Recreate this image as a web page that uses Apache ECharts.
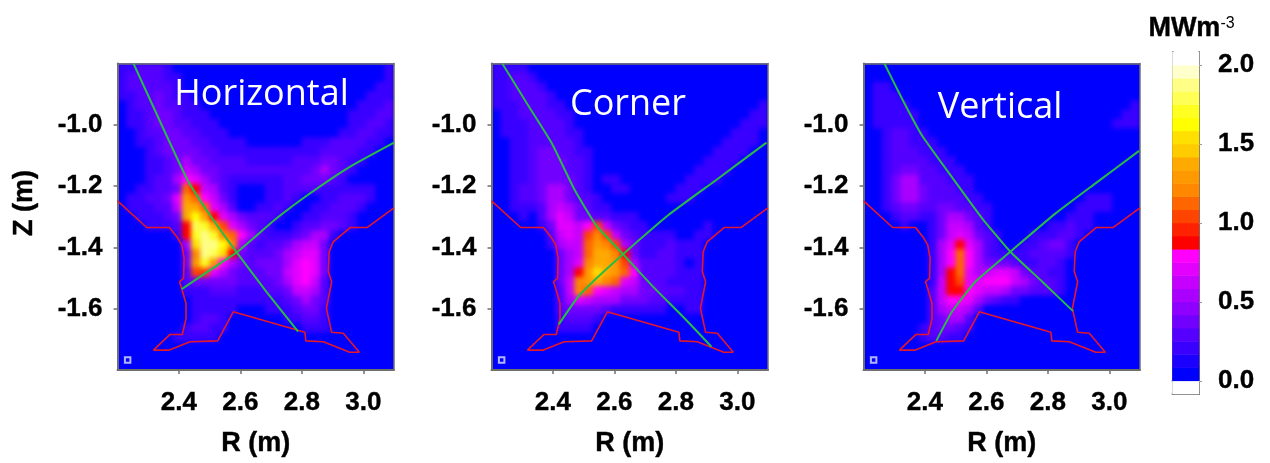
<!DOCTYPE html>
<html><head><meta charset="utf-8">
<script src="https://cdn.jsdelivr.net/npm/echarts@6/dist/echarts.min.js"></script>
<style>html,body{margin:0;padding:0;background:#fff}#c{width:1270px;height:463px}</style>
</head><body><div id="c"></div>
<script>
// Power density, units of 0.1 MW/m3. Rows top (Z=-0.8) to bottom (Z=-1.8), columns R=2.2 to 3.1; missing trailing cells are 0.
const horizontalTenths = [
[1,1,2,2,2,1,0,0,0,0,0,0,0,0,0,0,0,0,0,0,0,0,0,0,0,0,0,0,0,1],
[1,2,2,2,2,1,1,0,0,0,0,0,0,0,0,0,0,0,0,0,0,0,0,0,0,0,0,0,0,1],
[1,2,2,2,2,2,1,0,0,0,0,0,0,0,0,0,0,0,0,0,0,0,0,0,0,0,0,0,1,1],
[1,1,2,2,3,2,1,1,0,0,0,0,0,0,0,0,0,0,0,0,0,0,0,0,0,0,0,1,1,1],
[0,1,2,2,3,2,2,1,1,0,0,0,0,0,0,0,0,0,0,0,0,0,0,0,0,0,1,1,1,2],
[0,1,1,2,3,3,2,1,1,1,0,0,0,0,0,0,0,0,0,0,0,0,0,0,0,1,1,1,2,2],
[0,1,1,2,3,3,2,2,1,1,1,0,0,0,0,0,0,0,0,0,0,0,0,0,0,1,1,2,2,1],
[0,0,1,2,2,3,3,2,2,1,1,1,0,0,0,0,0,0,0,0,0,0,0,0,1,1,2,2,1,1],
[0,0,1,1,2,3,3,3,2,2,1,1,1,1,0,0,0,0,0,0,1,1,1,2,2,2,2,1,1,0],
[0,0,0,1,2,3,3,3,3,2,2,1,1,1,1,1,1,1,1,1,1,1,2,2,2,2,1,1,0,0],
[0,0,0,1,1,2,3,4,3,3,2,2,2,2,1,1,1,1,1,2,2,2,3,3,2,1,1],
[0,0,0,1,1,2,3,5,4,3,3,2,2,2,2,2,2,2,2,2,2,3,4,3,2,1],
[0,0,0,1,2,2,4,8,6,4,3,2,1,1,1,1,1,1,2,2,3,3,3,2,1],
[0,0,1,1,2,2,3,11,9,5,4,2,1,0,0,0,1,1,2,2,2,2,1,1,1,1,1,1],
[0,1,1,2,2,3,6,13,11,8,5,3,1,0,0,0,1,1,2,1,0,0,1,1,2,2,2,1],
[0,1,1,1,2,2,5,14,14,11,6,4,2,0,0,1,1,2,1,0,0,1,1,2,2,2,1],
[0,0,1,1,1,2,3,14,16,14,9,6,4,3,2,2,2,1,0,0,1,1,2,2,2,1],
[0,0,0,1,1,1,2,9,18,17,14,10,6,4,3,2,1,0,0,1,2,2,3,3,2,1],
[0,0,0,0,0,0,1,9,17,19,17,12,11,8,4,2,1,1,1,2,3,4,4,1],
[0,0,0,0,0,0,0,4,15,19,19,16,12,4,2,1,2,2,3,4,5,5,3],
[0,0,0,0,0,0,0,3,12,19,18,15,9,3,2,2,2,3,4,5,6,6,3],
[0,0,0,0,0,0,0,3,13,17,13,8,4,3,2,3,3,3,4,6,7,6,3],
[0,0,0,0,0,0,0,2,10,10,6,4,3,2,2,2,3,3,5,6,8,6,3],
[0,0,0,0,0,0,0,2,3,3,3,3,3,2,2,2,2,3,4,6,7,5,2],
[0,0,0,0,0,0,0,1,1,1,2,2,2,1,1,1,2,2,3,5,5,4,2],
[0,0,0,0,0,0,0,0,1,1,1,1,1,1,1,1,1,1,2,3,4,3,2],
[0,0,0,0,0,0,0,0,1,1,1,1,1,0,0,0,1,1,1,2,3,3,1],
[0,0,0,0,0,0,0,0,1,2,2,1,0,0,0,0,0,0,1,1,2,2,1],
[0,0,0,0,0,0,0,1,2,2,1,1,0,0,0,0,0,0,0,0,1,1,1],
[0,0,0,0,0,0,1,1,1,1,1],
[],[],[]
];
const cornerTenths = [
[1,1,1,1],
[1,1,2,2,1],
[1,1,2,2,2,1],
[1,1,2,2,2,2,1],
[1,1,1,2,2,2,1,1,0,0,0,0,0,0,0,0,0,0,0,0,0,0,0,0,0,0,0,0,0,1],
[0,1,1,2,2,2,2,1,1,0,0,0,0,0,0,0,0,0,0,0,0,0,0,0,0,0,0,0,1,1],
[0,1,1,1,2,2,2,2,1,0,0,0,0,0,0,0,0,0,0,0,0,0,0,0,0,0,0,1,1,1],
[0,1,1,1,2,2,2,2,1,1,0,0,0,0,0,0,0,0,0,0,0,0,0,0,0,0,1,1,1,0],
[0,0,1,1,2,2,2,2,2,1,0,0,0,0,0,0,0,0,0,0,0,0,0,0,0,1,1,1,1],
[0,0,1,1,2,3,3,2,2,1,1,0,0,0,0,0,0,0,0,0,0,0,0,0,1,1,1,1],
[0,0,1,1,2,3,3,3,2,2,1,0,0,0,0,0,0,0,0,0,0,0,0,1,1,1,1],
[0,0,1,1,2,3,3,3,2,2,1,0,0,0,0,0,0,0,0,0,0,0,1,1,1,1],
[0,0,1,1,2,3,3,3,3,2,1,0,1,1,0,0,0,0,0,0,0,1,1,1,1],
[0,0,1,2,2,3,4,4,3,2,1,0,0,1,1,0,0,0,0,0,1,1,1],
[0,0,1,2,2,3,4,4,3,2,2,1,0,0,0,0,0,0,0,1,1,1],
[0,0,1,1,1,2,4,5,4,3,2,1,1],
[0,0,0,1,0,2,4,6,5,3,3,2,2,1,1,1],
[0,0,0,0,0,1,3,6,6,5,8,10,5,3,2,1,1,0,0,0,0,0,0,1],
[0,0,0,0,0,0,2,5,6,5,10,12,10,5,3,2,1,1,1,1,0,0,1,1],
[0,0,0,0,0,0,1,4,5,5,11,13,12,10,4,3,1,1,1,2,1,1,1],
[0,0,0,0,0,0,0,3,4,5,11,14,14,12,9,3,1,1,2,2,1,1,1],
[0,0,0,0,0,0,0,3,4,6,12,14,14,13,10,4,2,2,2,2,1,0,1],
[0,0,0,0,0,0,0,3,4,9,13,15,14,13,11,7,2,2,2,2,1,1,1],
[0,0,0,0,0,0,0,3,5,12,13,14,12,11,6,5,3,2,2,1,1,1,1],
[0,0,0,0,0,0,0,2,5,12,11,7,6,5,4,4,3,3,2,2,2,1,1],
[0,0,0,0,0,0,0,2,4,6,5,4,4,4,3,3,3,2,2,1,1,1,1],
[0,0,0,0,0,0,0,2,3,3,3,3,2,1,1,1,1,1,1,0,0,1,1],
[0,0,0,0,0,0,0,1,2,2,2,1],
[0,0,0,0,0,0,0,1,1,1,1],
[],[],[],[]
];
const verticalTenths = [
[],
[],
[0,1,1],
[0,1,1,1],
[0,1,1,1,1,0,0,0,0,0,0,0,0,0,0,0,0,0,0,0,0,0,0,0,0,0,0,0,0,1],
[0,1,1,1,1,1,0,0,0,0,0,0,0,0,0,0,0,0,0,0,0,0,0,0,0,0,0,0,1,1],
[0,1,1,1,1,1,0,0,0,0,0,0,0,0,0,0,0,0,0,0,0,0,0,0,0,0,0,1,1,1],
[0,0,1,2,2,1,1],
[0,0,1,2,2,1,1,1],
[0,0,1,2,2,2,1,1,1],
[0,0,1,2,2,2,2,1,1,1],
[0,0,1,2,3,3,2,2,1,1,1],
[0,0,1,3,4,4,2,2,2,1,1,1],
[0,0,1,3,4,4,3,2,2,2,1,1],
[0,0,1,3,4,4,3,2,2,2,2,1,1,0,0,0,0,0,0,0,0,0,0,0,1,1,1],
[0,0,1,2,3,3,2,2,3,3,2,2,1,1,0,0,0,0,0,0,0,0,0,1,1,1,1],
[0,0,0,1,2,2,1,1,3,4,4,3,2,1,0,0,0,0,0,0,0,0,1,1,1],
[0,0,0,0,1,0,0,1,3,5,5,4,2,1,0,0,0,0,0,0,1,1,2,1,1],
[0,0,0,0,0,0,0,1,3,5,6,5,3,2,1,0,0,0,1,1,1,2,2,1],
[0,0,0,0,0,0,0,1,4,6,9,6,4,2,1,0,0,1,1,2,3,3,1],
[0,0,0,0,0,0,0,1,4,7,11,8,4,2,1,1,1,1,2,2,2,2,1],
[0,0,0,0,0,0,0,1,4,8,11,7,4,3,3,3,2,1,1,2,2,1],
[0,0,0,0,0,0,0,1,4,9,11,6,4,5,6,6,5,3,2,2,1,1],
[0,0,0,0,0,0,0,1,5,9,10,6,6,7,7,7,5,4,3,2,2,1],
[0,0,0,0,0,0,0,2,5,9,9,7,6,5,5,4,3,3,2,2,2,1],
[0,0,0,0,0,0,0,2,5,7,7,6,4,3,2,1,1],
[0,0,0,0,0,0,0,2,4,5,5,4,2],
[0,0,0,0,0,0,0,2,3,4,4,2],
[0,0,0,0,0,0,1,2,3,3,2,1],
[0,0,0,0,0,0,1,2,2,1,1],
[],[],[]
];
const panelTitles = ['Horizontal','Corner','Vertical'];
const rTicks = [2.4,2.6,2.8,3.0];
const zTicks = [-1.6,-1.4,-1.2,-1.0];
const barTicks = [0,0.5,1,1.5,2];
// Vessel wall, [R, Z]
const wall = [[2.2,-1.248],[2.295,-1.335],[2.369,-1.335],[2.393,-1.365],[2.409,-1.392],[2.417,-1.436],[2.415,-1.501],[2.402,-1.512],[2.409,-1.534],[2.423,-1.583],[2.423,-1.632],[2.411,-1.684],[2.371,-1.684],[2.317,-1.735],[2.369,-1.735],[2.436,-1.708],[2.526,-1.705],[2.577,-1.61],[2.81,-1.677],[2.813,-1.705],[2.87,-1.708],[2.956,-1.742],[2.987,-1.742],[2.935,-1.68],[2.897,-1.677],[2.88,-1.599],[2.897,-1.512],[2.886,-1.479],[2.889,-1.414],[2.902,-1.382],[2.958,-1.335],[3.013,-1.335],[3.1,-1.271]];
// Separatrix legs, [R, Z]
const horizontalLegA = [[2.252,-0.8],[2.339,-0.99],[2.428,-1.18],[2.501,-1.295],[2.588,-1.416],[2.685,-1.545],[2.788,-1.675]];
const horizontalLegB = [[2.409,-1.536],[2.501,-1.474],[2.588,-1.416],[2.718,-1.305],[2.826,-1.224],[2.956,-1.137],[3.1,-1.058]];
const cornerLegA = [[2.235,-0.8],[2.319,-0.936],[2.395,-1.058],[2.471,-1.213],[2.542,-1.33],[2.628,-1.422],[2.721,-1.523],[2.829,-1.632],[2.916,-1.724]];
const cornerLegB = [[2.419,-1.651],[2.482,-1.561],[2.547,-1.496],[2.628,-1.422],[2.775,-1.295],[2.938,-1.175],[3.095,-1.058]];
const verticalLegA = [[2.268,-0.8],[2.325,-0.914],[2.39,-1.034],[2.499,-1.186],[2.586,-1.305],[2.678,-1.414],[2.782,-1.512],[2.882,-1.608]];
const verticalLegB = [[2.437,-1.705],[2.488,-1.61],[2.564,-1.512],[2.678,-1.414],[2.825,-1.289],[2.955,-1.191],[3.097,-1.085]];
const marker = [[2.233,-1.767]];
// Colour scale: 24 bands from 0 to 2 MW/m3
const bandColors = ['#0000ff','#1c00ff','#3900ff','#5500ff','#7100ff','#8e00ff','#aa00ff','#c600ff','#e300ff','#ff00ff','#ff0000','#ff2200','#ff4400','#ff6600','#ff8800','#ff9900','#ffaa00','#ffcc00','#ffe000','#ffff00','#ffff22','#ffff55','#ffff88','#ffffcc'];
// The low readings above came out one step under the reference colours
const lowReadingOffset = 1;

const FONT = 'Liberation Sans';
const LSIZE = 26, NSIZE = 27;
const STROKE = {textBorderColor:'#000',textBorderWidth:0.4};
const frame = '#6f6f6f';
const plotLeft = [117.5,491.5,863.5], plotW = 276.5, plotTop = 63.5, plotH = 306.5;
const NCOL = 30, NROW = 33, step = 2/24;
const fields = [horizontalTenths, cornerTenths, verticalTenths];
const legs = [[horizontalLegA,horizontalLegB],[cornerLegA,cornerLegB],[verticalLegA,verticalLegB]];
const catX = Array.from({length:NCOL},(_,i)=>String(i));
const catY = Array.from({length:NROW},(_,i)=>String(i));
const TOP = 2; // layer of everything drawn above the field

const grid=[], xAxis=[], yAxis=[], series=[];
const labelStyle = {fontFamily:FONT,fontWeight:'bold',fontSize:LSIZE,color:'#000',...STROKE};
plotLeft.forEach((left,k)=>{
  grid.push({left,top:plotTop,width:plotW,height:plotH,backgroundColor:'#0000ff',show:true,borderWidth:0,zlevel:0});
  xAxis.push({type:'category',gridIndex:k,data:catX,position:'top',boundaryGap:true,silent:true,zlevel:TOP,
    axisLine:{show:true,lineStyle:{color:frame,width:1.5}},axisTick:{show:false},axisLabel:{show:false},splitLine:{show:false}});
  xAxis.push({type:'value',gridIndex:k,min:2.2,max:3.1,position:'bottom',name:'R (m)',nameLocation:'middle',nameGap:60,zlevel:TOP,
    nameTextStyle:{fontFamily:FONT,fontWeight:'bold',fontSize:NSIZE,color:'#000',...STROKE},
    axisLine:{show:true,onZero:false,lineStyle:{color:frame,width:2}},
    axisTick:{show:true,length:4,customValues:rTicks,lineStyle:{color:frame,width:1.5}},
    axisLabel:{show:true,margin:20,customValues:rTicks,formatter:v=>v.toFixed(1),...labelStyle},
    splitLine:{show:false}});
  yAxis.push({type:'category',gridIndex:k,data:catY,inverse:true,position:'right',boundaryGap:true,silent:true,zlevel:TOP,
    axisLine:{show:true,lineStyle:{color:frame,width:1.5}},axisTick:{show:false},axisLabel:{show:false},splitLine:{show:false}});
  yAxis.push({type:'value',gridIndex:k,min:-1.8,max:-0.8,position:'left',zlevel:TOP,
    axisLine:{show:true,onZero:false,lineStyle:{color:frame,width:2}},
    axisTick:{show:true,length:4,customValues:zTicks,lineStyle:{color:frame,width:1.5}},
    axisLabel:{show:true,margin:15,customValues:zTicks,formatter:v=>v.toFixed(1),...labelStyle,padding:[3,0,0,0]},
    splitLine:{show:false}});
  const cells=[];
  fields[k].forEach((row,j)=>{ for(let i=0;i<NCOL;i++){
    const t=row[i]||0;
    cells.push([i,j,(t>0&&t<8?t+lowReadingOffset:t)/10]);
  } });
  series.push({type:'heatmap',xAxisIndex:2*k,yAxisIndex:2*k,data:cells,silent:true,progressive:0,emphasis:{disabled:true},itemStyle:{borderWidth:0},zlevel:1});
  series.push({type:'line',name:'wall',xAxisIndex:2*k+1,yAxisIndex:2*k+1,data:wall,showSymbol:false,silent:true,lineStyle:{color:'#e4182a',width:1.6},z:4,zlevel:TOP});
  legs[k].forEach(leg=>series.push({type:'line',name:'separatrix',xAxisIndex:2*k+1,yAxisIndex:2*k+1,data:leg,showSymbol:false,silent:true,smooth:0.15,lineStyle:{color:'#28bb48',width:2},z:5,zlevel:TOP}));
  series.push({type:'scatter',xAxisIndex:2*k+1,yAxisIndex:2*k+1,data:marker,symbol:'rect',symbolSize:5.5,silent:true,itemStyle:{color:'#0000ff',borderColor:'#dfe4ff',borderWidth:2},z:5,zlevel:TOP});
});
// Colour bar: one band per scale step plus the white bands at both ends
const barBands = Array.from({length:26},(_,i)=>String(i));
const barCells = barBands.map((_,i)=>[0,i,(i-1+0.5)*step]);
grid.push({left:1172.5,top:52,width:26.5,height:342,show:false,zlevel:TOP});
xAxis.push({type:'category',gridIndex:3,data:['0'],position:'top',zlevel:TOP,axisLine:{show:true,lineStyle:{color:frame,width:2}},axisTick:{show:false},axisLabel:{show:false}});
xAxis.push({type:'value',gridIndex:3,min:0,max:1,position:'bottom',zlevel:TOP,axisLine:{show:true,onZero:false,lineStyle:{color:frame,width:2}},axisTick:{show:false},axisLabel:{show:false},splitLine:{show:false}});
yAxis.push({type:'category',gridIndex:3,data:barBands,position:'left',zlevel:TOP,axisLine:{show:true,lineStyle:{color:frame,width:2}},axisTick:{show:false},axisLabel:{show:false}});
yAxis.push({type:'value',gridIndex:3,min:-step,max:2+step,position:'right',zlevel:TOP,
  axisLine:{show:true,onZero:false,lineStyle:{color:frame,width:2}},
  axisTick:{show:true,length:3,customValues:barTicks,lineStyle:{color:'#999',width:1}},
  axisLabel:{show:true,margin:19,customValues:barTicks,formatter:v=>v.toFixed(1),...labelStyle},
  splitLine:{show:false}});
series.push({type:'heatmap',xAxisIndex:6,yAxisIndex:6,data:barCells,silent:true,progressive:0,emphasis:{disabled:true},zlevel:TOP});

const pieces=[{lt:0,color:'#ffffff'},{gte:2,color:'#ffffff'}];
bandColors.forEach((color,i)=>pieces.push({gte:i*step-1e-9,lt:(i+1)*step-1e-9,color}));

const titlePos=[[261.5,95],[628,105],[1000,108]];
const graphic=panelTitles.map((t,k)=>({type:'text',x:titlePos[k][0],y:titlePos[k][1],z:20,zlevel:TOP,silent:true,
  style:{text:t,fontFamily:'Open Sans',fontSize:36,fill:'#fff',align:'center',verticalAlign:'middle'}}));
graphic.push({type:'text',x:25,y:203,rotation:Math.PI/2,z:20,zlevel:TOP,silent:true,style:{text:'Z (m)',fontFamily:FONT,fontWeight:'bold',fontSize:NSIZE,fill:'#000',stroke:'#000',lineWidth:0.4,align:'center',verticalAlign:'middle'}});
graphic.push({type:'text',x:1191.5,y:29,z:20,zlevel:TOP,silent:true,style:{text:'{a|MWm}{b|-3}',align:'center',verticalAlign:'middle',
  rich:{a:{fontFamily:FONT,fontWeight:'bold',fontSize:27,fill:'#000',stroke:'#000',lineWidth:0.4},b:{fontFamily:FONT,fontSize:16,fill:'#000',padding:[0,0,10,0]}}}});

const chart=echarts.init(document.getElementById('c'),null,{renderer:'canvas'});
chart.setOption({animation:false,backgroundColor:'#fff',tooltip:{show:false},grid,xAxis,yAxis,series,graphic,
  visualMap:{type:'piecewise',show:false,pieces,seriesIndex:series.map((s,i)=>s.type==='heatmap'?i:-1).filter(i=>i>=0),dimension:2}});
// Soften the field layer as the source image does, and keep it inside the plots
const fieldLayer=document.querySelector('#c canvas[data-zr-dom-id="zr_1"]');
if(fieldLayer){
  fieldLayer.style.filter='blur(2.5px)';
  fieldLayer.style.clipPath="path('"+plotLeft.map(l=>`M${l} ${plotTop}h${plotW}v${plotH}h${-plotW}z`).join(' ')+"')";
}
</script></body></html>
